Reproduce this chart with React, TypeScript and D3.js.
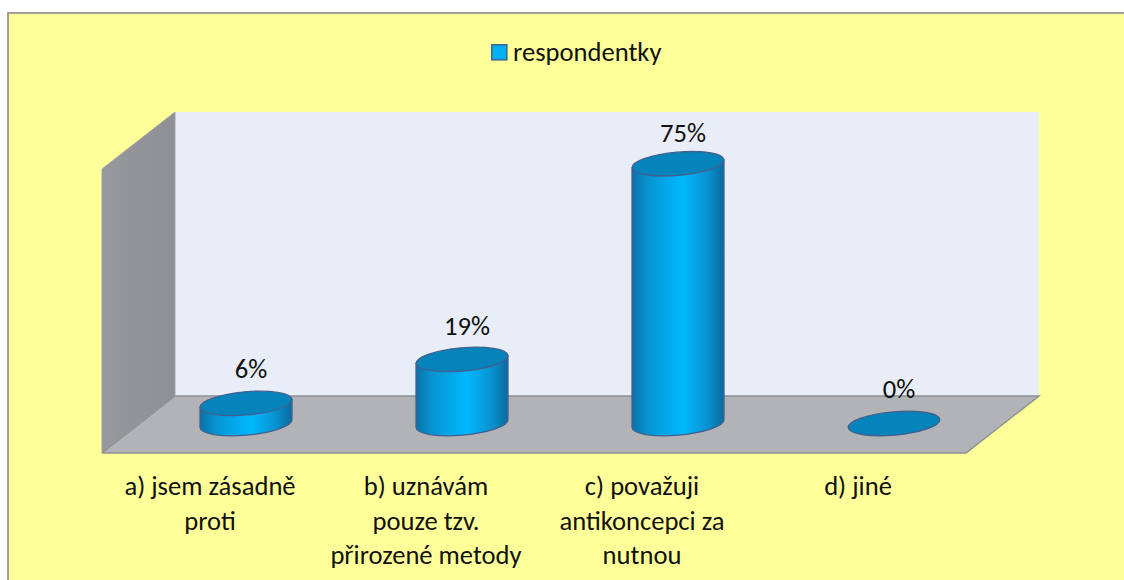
import React from "react";
import * as d3 from "d3";

const categories = ["a", "b", "c", "d"];
const categoryLines = [
  ["a) jsem zásadně", "proti"],
  ["b) uznávám", "pouze tzv.", "přirozené metody"],
  ["c) považuji", "antikoncepci za", "nutnou"],
  ["d) jiné"],
];
const values = [5.8, 18.5, 75, 0];
const valueLabels = ["6%", "19%", "75%", "0%"];
const seriesName = "respondentky";

const W = 1124, H = 580;
const frontL = 102, frontR = 966, frontB = 453;
const depthX = 73, depthY = 57;
const wallH = 284;
const x = d3.scaleBand<string>().domain(categories).range([frontL, frontR]);
const h = d3.scaleLinear().domain([0, 82]).range([0, wallH]);
const rx = 46, ry = 11.6, tilt = -5;
const baseY = frontB - depthY / 2 - 1;
const dy = 4;
const FONT = "Carlito, Lato, 'Open Sans', sans-serif";
const FS = 26.6;
// value labels sit slightly closer to taller bars in the reference
const labelGap = d3.scaleLinear().domain([0, 75]).range([25.5, 22]);

export default function App() {
  return (
    <svg width={W} height={H} style={{ position: "absolute", left: 0, top: 0, fontFamily: FONT }}>
      <defs>
        <linearGradient id="cyl" x1="0" x2="1" y1="0" y2="0">
          <stop offset="0" stopColor="#0a72a8" />
          <stop offset="0.18" stopColor="#0795d2" />
          <stop offset="0.55" stopColor="#00b8ff" />
          <stop offset="0.8" stopColor="#0796d4" />
          <stop offset="1" stopColor="#0a6a9e" />
        </linearGradient>
        <linearGradient id="wall" x1="0" x2="1" y1="0" y2="0">
          <stop offset="0" stopColor="#96989b" />
          <stop offset="1" stopColor="#8e9093" />
        </linearGradient>
      </defs>
      <rect x={0} y={0} width={W} height={H} fill="#fff" />
      <rect x={8} y={13} width={W} height={H} fill="#ffff99" stroke="#8a8a8a" strokeWidth={1.6} />
      {/* Legend */}
      <rect x={491.8} y={44.8} width={15} height={15} fill="#00b0f0" stroke="#3c6a98" strokeWidth={1.6} />
      <text x={513} y={60.5} fontSize={FS} fill="#111">{seriesName}</text>
      {/* Walls */}
      <polygon points={`${frontL + depthX},${frontB - depthY - wallH} ${frontR + depthX},${frontB - depthY - wallH} ${frontR + depthX},${frontB - depthY} ${frontL + depthX},${frontB - depthY}`} fill="#e9edf7" />
      <polygon points={`${frontL},${frontB - wallH} ${frontL + depthX},${frontB - depthY - wallH} ${frontL + depthX},${frontB - depthY} ${frontL},${frontB}`} fill="url(#wall)" stroke="#a3a4a6" strokeWidth={1} />
      <polygon points={`${frontL + depthX},${frontB - depthY} ${frontR + depthX},${frontB - depthY} ${frontR},${frontB} ${frontL},${frontB}`} fill="#b1b3b6" />
      <path d={`M${frontL},${frontB}L${frontR},${frontB}L${frontR + depthX},${frontB - depthY}L${frontL + depthX},${frontB - depthY}L${frontL},${frontB}`} fill="none" stroke="#8f9194" strokeWidth={1.5} />
      {/* Bars */}
      {values.map((v, i) => {
        const cx = x(categories[i])! + x.bandwidth() / 2 + 36;
        const topY = baseY - h(v);
        const body = `M${cx - rx},${topY + dy}L${cx - rx},${baseY + dy}A${rx},${ry} ${tilt} 0 0 ${cx + rx},${baseY - dy}L${cx + rx},${topY - dy}Z`;
        return (
          <g key={categories[i]}>
            {v > 0 && <path d={body} fill="url(#cyl)" stroke="#44608f" strokeWidth={1.3} />}
            <ellipse cx={cx} cy={topY} rx={rx} ry={ry} transform={`rotate(${tilt} ${cx} ${topY})`} fill="#0484bb" stroke="#44608f" strokeWidth={1.3} />
            <text x={cx + 5} y={topY - labelGap(v)} fontSize={FS} textAnchor="middle" fill="#111">{valueLabels[i]}</text>
          </g>
        );
      })}
      {/* Category labels */}
      {categoryLines.map((lines, i) => (
        <text key={i} textAnchor="middle" fontSize={FS} fill="#111">
          {lines.map((l, j) => (
            <tspan key={j} x={x(categories[i])! + x.bandwidth() / 2} y={495 + j * 34.7}>{l}</tspan>
          ))}
        </text>
      ))}
    </svg>
  );
}
